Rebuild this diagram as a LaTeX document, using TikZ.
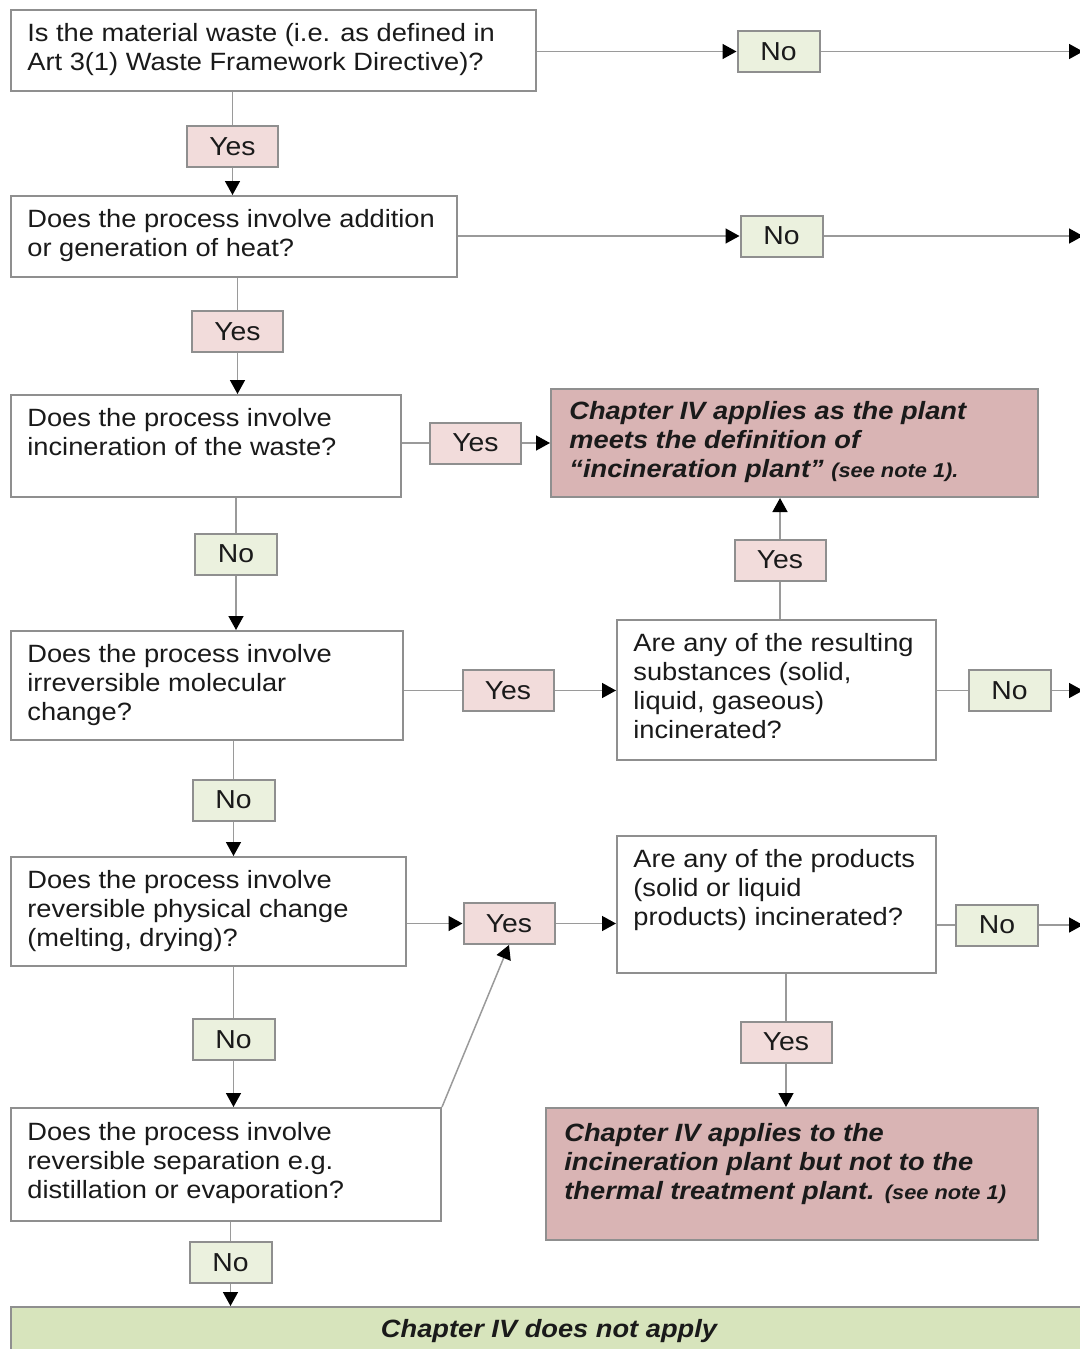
\documentclass[tikz,border=0pt]{standalone}
\usepackage{fontspec}
\setmainfont{Liberation Sans}[FakeStretch=1.09]
\usetikzlibrary{arrows.meta,fit}
\definecolor{pinkbox}{HTML}{D9B4B4}
\definecolor{yesfill}{HTML}{F2DCDB}
\definecolor{nofill}{HTML}{EBF1DE}
\definecolor{barfill}{HTML}{D7E4BC}
\definecolor{edge}{HTML}{8F8F8F}
\definecolor{conn}{HTML}{9A9A9A}
\definecolor{ink}{HTML}{1A1A1A}
\begin{document}
\begin{tikzpicture}[x=0.5pt,y=-0.5pt,
  box/.style={draw=edge, line width=1pt, fill=white, inner sep=0pt},
  redbox/.style={draw=edge, line width=1pt, fill=pinkbox, inner sep=0pt},
  barbox/.style={draw=edge, line width=1pt, fill=barfill, inner sep=0pt},
  yesbox/.style={draw=edge, line width=1pt, fill=yesfill, inner sep=0pt, minimum width=45.5pt, minimum height=20.5pt, text=ink, font=\fontsize{13}{14.5}\selectfont},
  nobox/.style={draw=edge, line width=1pt, fill=nofill, inner sep=0pt, minimum width=41pt, minimum height=20.5pt, text=ink, font=\fontsize{13}{14.5}\selectfont},
  txt/.style={inner sep=0pt, anchor=north west, align=left, text=ink, font=\fontsize{12.5}{14.5}\selectfont},
  btxt/.style={txt, font=\fontsize{12.5}{14.5}\selectfont\bfseries\itshape},
  con/.style={draw=conn, line width=0.75pt},
  arr/.style={con, -{Triangle[length=7pt,width=7.5pt,color=black]}}
]
\useasboundingbox (0,0) rectangle (1080,1349);

% main question boxes
\node[box, fit={(11,10) (536,91)}] (b1) {};
\node[box, fit={(11,196) (457,277)}] (b2) {};
\node[box, fit={(11,395) (401,497)}] (b3) {};
\node[box, fit={(11,631) (403,740)}] (b4) {};
\node[box, fit={(11,857) (406,966)}] (b5) {};
\node[box, fit={(11,1108) (441,1221)}] (b6) {};
\node[box, fit={(617,620) (936,760)}] (q1) {};
\node[box, fit={(617,836) (936,973)}] (q2) {};
\node[redbox, fit={(551,389) (1038,497)}] (p1) {};
\node[redbox, fit={(546,1108) (1038,1240)}] (p2) {};
\node[barbox, fit={(11,1307) (1090,1362)}] (bar) {};

% texts
\node[txt] (b1t) at (27,23) {Is the material waste (i.e. as defined in\\Art 3(1) Waste Framework Directive)?};
\node[txt] (b2t) at (27,209) {Does the process involve addition\\or generation of heat?};
\node[txt] (b3t) at (27,408) {Does the process involve\\incineration of the waste?};
\node[txt] (b4t) at (27,644) {Does the process involve\\irreversible molecular\\change?};
\node[txt] (b5t) at (27,870) {Does the process involve\\reversible physical change\\(melting, drying)?};
\node[txt] (b6t) at (27,1122) {Does the process involve\\reversible separation e.g.\\distillation or evaporation?};
\node[txt] (q1t) at (633,633) {Are any of the resulting\\substances (solid,\\liquid, gaseous)\\incinerated?};
\node[txt] (q2t) at (633,849) {Are any of the products\\(solid or liquid\\products) incinerated?};
\node[btxt] (p1t) at (569,401) {Chapter IV applies as the plant\\meets the definition of\\``incineration plant'' {\fontsize{10}{14.5}\selectfont(see note 1).}};
\node[btxt] (p2t) at (564,1123) {Chapter IV applies to the\\incineration plant but not to the\\thermal treatment plant. {\fontsize{10}{14.5}\selectfont(see note 1)}};
\node[btxt, anchor=center] (bart) at (549,1331) {Chapter IV does not apply};

% yes / no labels
\node[nobox] (no1) at (778.5,51.5) {No};
\node[yesbox] (yes1) at (232.5,146.5) {Yes};
\node[nobox] (no2) at (781.5,236) {No};
\node[yesbox] (yes2) at (237.5,331.5) {Yes};
\node[yesbox] (yes3) at (475.5,443) {Yes};
\node[yesbox] (yes4) at (780,560) {Yes};
\node[nobox] (no3) at (236,554) {No};
\node[yesbox] (yes5) at (508,690.5) {Yes};
\node[nobox] (no4) at (1009.5,690.5) {No};
\node[nobox] (no5) at (233.5,800) {No};
\node[yesbox] (yes6) at (509,923.5) {Yes};
\node[nobox] (no6) at (997,925) {No};
\node[yesbox] (yes7) at (786,1042) {Yes};
\node[nobox] (no7) at (233.5,1039.5) {No};
\node[nobox] (no8) at (230.5,1262.5) {No};

% right edge exits
\coordinate (rx) at (1083,0);

% connectors
\draw[arr] (no1.west -| b1.east) -- (no1.west);
\draw[arr] (no1.east) -- (no1.east -| rx);
\draw[con] (yes1.north |- b1.south) -- (yes1.north);
\draw[arr] (yes1.south) -- (yes1.south |- b2.north);

\draw[arr] (no2.west -| b2.east) -- (no2.west);
\draw[arr] (no2.east) -- (no2.east -| rx);
\draw[con] (yes2.north |- b2.south) -- (yes2.north);
\draw[arr] (yes2.south) -- (yes2.south |- b3.north);

\draw[con] (yes3.west -| b3.east) -- (yes3.west);
\draw[arr] (yes3.east) -- (yes3.east -| p1.west);
\draw[con] (no3.north |- b3.south) -- (no3.north);
\draw[arr] (no3.south) -- (no3.south |- b4.north);

\draw[con] (yes5.west -| b4.east) -- (yes5.west);
\draw[arr] (yes5.east) -- (yes5.east -| q1.west);
\draw[con] (yes4.south |- q1.north) -- (yes4.south);
\draw[arr] (yes4.north) -- (yes4.north |- p1.south);
\draw[con] (no4.west -| q1.east) -- (no4.west);
\draw[arr] (no4.east) -- (no4.east -| rx);
\draw[con] (no5.north |- b4.south) -- (no5.north);
\draw[arr] (no5.south) -- (no5.south |- b5.north);

\draw[arr] (yes6.west -| b5.east) -- (yes6.west);
\draw[arr] (yes6.east) -- (yes6.east -| q2.west);
\draw[con] (no6.west -| q2.east) -- (no6.west);
\draw[arr] (no6.east) -- (no6.east -| rx);
\draw[con] (yes7.north |- q2.south) -- (yes7.north);
\draw[arr] (yes7.south) -- (yes7.south |- p2.north);
\draw[con] (no7.north |- b5.south) -- (no7.north);
\draw[arr] (no7.south) -- (no7.south |- b6.north);

\draw[arr] (b6.north east) -- (yes6.south);
\draw[con] (no8.north |- b6.south) -- (no8.north);
\draw[arr] (no8.south) -- (no8.south |- bar.north);
\end{tikzpicture}
\end{document}
